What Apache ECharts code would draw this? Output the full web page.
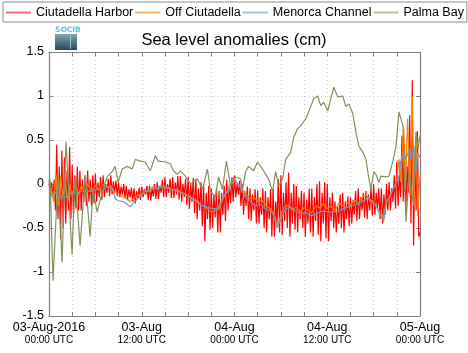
<!DOCTYPE html>
<html><head><meta charset="utf-8">
<script src="https://cdn.jsdelivr.net/npm/echarts@6/dist/echarts.min.js"></script>
<style>html,body{margin:0;padding:0;background:#fff}#c{width:468px;height:353px}</style>
</head><body><div id="c"></div><script>
const seriesNames = ['Ciutadella Harbor', 'Off Ciutadella', 'Menorca Channel', 'Palma Bay'];
const seriesColors = ['#ff0000', '#ff8000', '#6a9bd1', '#7f9258'];
const legendColors = ['#ff6a6a', '#ffb266', '#a7c1e0', '#b4c29c'];
const xTickDates = ['03-Aug-2016', '03-Aug', '04-Aug', '04-Aug', '05-Aug'];
const xTickTimes = ['00:00 UTC', '12:00 UTC', '00:00 UTC', '12:00 UTC', '00:00 UTC'];
const yTicks = [-1.5, -1, -0.5, 0, 0.5, 1, 1.5];

// Ciutadella Harbor: samples every 10 min from 03-Aug 00:00 UTC (one row per hour)
const harborStepHours = 1 / 6;
const harborValues = [
  0.0, -0.08, 0.02, -0.15, 0.05, -0.3,
  0.45, -0.4, 0.2, -0.62, 0.38, -0.5,
  0.3, -0.45, 0.15, -0.3, 0.42, -0.4,
  0.22, -0.35, 0.1, -0.28, 0.2, -0.3,
  0.15, -0.3, 0.05, -0.2, 0.1, -0.25,
  0.15, -0.2, 0.05, -0.25, 0.1, -0.22,
  0.12, -0.2, 0.02, -0.15, 0.08, -0.18,
  0.1, -0.15, 0.0, -0.1, 0.06, -0.14,
  0.1, -0.12, 0.03, -0.1, 0.04, -0.14,
  0.02, -0.15, -0.03, -0.12, 0.0, -0.16,
  -0.02, -0.18, -0.06, -0.15, -0.04, -0.2,
  -0.05, -0.22, -0.08, -0.16, -0.04, -0.18,
  -0.03, -0.15, -0.06, -0.12, -0.02, -0.18,
  -0.02, -0.19, -0.05, -0.14, 0.0, -0.17,
  0.02, -0.17, -0.02, -0.1, 0.05, -0.15,
  0.08, -0.15, 0.0, -0.1, 0.06, -0.16,
  0.08, -0.16, 0.02, -0.12, 0.09, -0.18,
  0.09, -0.2, 0.0, -0.15, 0.06, -0.24,
  0.08, -0.28, 0.0, -0.2, 0.07, -0.33,
  0.05, -0.4, -0.05, -0.3, 0.02, -0.48,
  0.0, -0.65, -0.1, -0.4, -0.02, -0.52,
  -0.05, -0.5, -0.12, -0.38, -0.06, -0.55,
  -0.08, -0.55, -0.1, -0.35, -0.02, -0.42,
  0.05, -0.3, -0.02, -0.22, 0.08, -0.2,
  0.1, -0.15, 0.0, -0.12, 0.04, -0.25,
  0.0, -0.35, -0.08, -0.25, -0.03, -0.4,
  -0.05, -0.42, -0.12, -0.3, -0.06, -0.45,
  -0.07, -0.45, -0.15, -0.35, -0.05, -0.5,
  -0.08, -0.55, -0.15, -0.4, -0.06, -0.6,
  -0.05, -0.6, -0.2, -0.45, 0.05, -0.55,
  0.1, -0.58, -0.1, -0.42, 0.02, -0.5,
  0.13, -0.6, -0.1, -0.45, 0.0, -0.52,
  -0.02, -0.55, -0.15, -0.4, -0.08, -0.5,
  -0.1, -0.6, -0.18, -0.45, -0.05, -0.55,
  -0.05, -0.6, -0.15, -0.42, 0.0, -0.58,
  0.03, -0.65, -0.1, -0.45, 0.02, -0.62,
  0.0, -0.65, -0.15, -0.42, -0.1, -0.5,
  -0.2, -0.55, -0.25, -0.45, -0.12, -0.5,
  -0.1, -0.55, -0.2, -0.4, -0.14, -0.48,
  -0.15, -0.45, -0.18, -0.35, -0.08, -0.42,
  -0.05, -0.4, -0.15, -0.3, -0.1, -0.38,
  -0.08, -0.4, -0.12, -0.3, -0.04, -0.36,
  0.0, -0.35, -0.1, -0.28, -0.05, -0.4,
  -0.05, -0.45, -0.12, -0.35, 0.0, -0.3,
  0.02, -0.3, -0.05, -0.2, 0.1, -0.28,
  0.25, -0.25, 0.1, -0.15, 0.55, -0.2,
  0.45, -0.3, 0.2, -0.1, 0.78, -0.45,
  1.18, -0.7, 0.3, -0.3, 0.6, -0.6,
  -0.55
];

// Off Ciutadella
const offHours = [0, 0.3, 0.6, 0.9, 1.2, 1.5, 1.8, 2.1, 2.4, 2.7, 3.0, 3.4, 3.8, 4.2, 4.6, 5.0, 5.5, 6.0, 6.5, 7.0, 7.5, 8.0, 8.5, 9.0, 9.5, 10.0, 10.5, 11.0, 11.5, 12.0, 12.5, 13.0, 13.5, 14.0, 14.5, 15.0, 15.5, 16.0, 16.5, 17.0, 17.5, 18.0, 18.5, 19.0, 19.5, 20.0, 20.5, 21.0, 21.5, 22.0, 22.5, 23.0, 23.5, 24.0, 24.5, 25.0, 25.5, 26.0, 26.5, 27.0, 27.5, 28.0, 28.5, 29.0, 29.5, 30.0, 30.5, 31.0, 31.5, 32.0, 32.5, 33.0, 33.5, 34.0, 34.5, 35.0, 35.5, 36.0, 36.5, 37.0, 37.5, 38.0, 38.5, 39.0, 39.5, 40.0, 40.5, 41.0, 41.5, 42.0, 42.5, 43.0, 43.3, 43.7, 44.0, 44.5, 44.9, 45.3, 45.5, 45.9, 46.1, 46.4, 46.7, 47.0, 47.2, 47.5, 47.7, 48.0];
const offValues = [-0.1, -0.05, -0.2, 0.12, -0.25, 0.1, -0.15, 0.05, -0.2, 0.0, -0.15, 0.02, -0.12, -0.02, -0.1, 0.0, -0.08, -0.02, -0.07, 0.0, -0.04, -0.02, -0.1, -0.12, -0.14, -0.17, -0.2, -0.16, -0.12, -0.12, -0.08, -0.08, -0.04, -0.05, -0.02, -0.05, -0.04, -0.07, -0.06, -0.09, -0.11, -0.13, -0.17, -0.19, -0.23, -0.25, -0.28, -0.32, -0.3, -0.28, -0.17, -0.09, 0.0, 0.03, 0.0, -0.06, -0.12, -0.17, -0.15, -0.2, -0.18, -0.24, -0.27, -0.32, -0.5, -0.35, -0.25, -0.24, -0.3, -0.26, -0.32, -0.27, -0.3, -0.33, -0.25, -0.27, -0.22, -0.28, -0.25, -0.3, -0.22, -0.25, -0.2, -0.24, -0.18, -0.22, -0.15, -0.12, -0.18, -0.2, -0.28, -0.33, -0.4, -0.2, -0.15, -0.05, 0.0, 0.28, 0.02, 0.63, -0.06, 0.74, -0.14, 1.0, -0.25, 0.59, -0.36, 0.09];

// Menorca Channel
const channelHours = [0, 0.4, 1.0, 1.7, 2.3, 3.0, 3.6, 4.3, 4.9, 5.6, 6.2, 6.9, 7.5, 8.2, 8.6, 9.0, 9.6, 10.1, 10.5, 11.2, 11.8, 12.3, 12.7, 13.5, 14.1, 14.8, 15.7, 16.6, 17.4, 18.3, 19.2, 19.8, 20.5, 21.1, 21.8, 22.4, 22.8, 23.2, 23.9, 24.4, 24.8, 25.0, 25.4, 26.1, 26.7, 27.4, 28.0, 28.7, 29.1, 29.6, 30.0, 30.6, 31.3, 31.9, 32.6, 33.2, 33.9, 34.5, 35.2, 35.8, 36.5, 37.4, 38.1, 39.1, 40.0, 40.7, 41.3, 41.6, 42.3, 42.9, 43.3, 43.6, 44.0, 44.5, 44.9, 45.3, 45.5, 45.9, 46.2, 46.6, 46.8, 47.2, 47.5, 47.7, 48.0];
const channelValues = [0.05, -0.15, -0.08, -0.17, -0.14, -0.09, -0.11, -0.08, -0.08, -0.08, -0.06, -0.08, -0.03, -0.06, -0.17, -0.19, -0.2, -0.23, -0.26, -0.19, -0.14, -0.08, -0.08, -0.03, -0.06, -0.02, -0.06, -0.08, -0.11, -0.15, -0.19, -0.25, -0.26, -0.28, -0.28, -0.17, -0.11, -0.08, 0.08, 0.0, -0.03, -0.08, -0.15, -0.2, -0.25, -0.23, -0.28, -0.31, -0.36, -0.48, -0.4, -0.28, -0.26, -0.31, -0.34, -0.32, -0.36, -0.34, -0.31, -0.31, -0.32, -0.31, -0.28, -0.25, -0.23, -0.19, -0.14, -0.2, -0.25, -0.36, -0.42, -0.2, -0.17, -0.06, 0.02, 0.09, 0.25, 0.36, 0.28, 0.4, 0.28, 0.43, 0.17, 0.35, 0.3];

// Palma Bay
const palmaHours = [0, 0.13, 0.52, 1.17, 1.69, 2.2, 2.98, 3.37, 4.02, 4.67, 5.32, 5.71, 6.23, 6.88, 7.52, 8.17, 8.56, 8.95, 9.47, 10.12, 10.77, 11.16, 11.8, 12.45, 13.1, 13.75, 14.14, 15.05, 15.7, 16.09, 16.6, 17.0, 17.64, 18.3, 18.68, 19.2, 19.85, 20.5, 20.89, 21.54, 21.93, 22.44, 22.96, 23.48, 24.13, 24.78, 25.04, 25.43, 25.82, 26.47, 26.98, 27.63, 28.02, 28.41, 28.93, 29.32, 29.71, 30.23, 30.62, 31.27, 31.66, 32.17, 32.56, 33.21, 33.6, 34.25, 34.77, 35.16, 35.55, 36.07, 36.46, 36.84, 37.36, 38.01, 38.4, 38.79, 39.31, 39.7, 40.09, 40.61, 41.0, 41.39, 41.65, 42.03, 42.29, 42.68, 42.94, 43.59, 43.98, 44.5, 44.89, 45.28, 45.8, 45.93, 46.19, 46.58, 47.1, 47.49, 47.74, 48.0];
const palmaValues = [0.0, 0.06, -1.1, 0.09, -0.89, 0.48, -0.8, 0.09, -0.7, 0.09, -0.6, -0.06, -0.32, -0.09, 0.08, 0.14, 0.2, 0.02, 0.17, 0.2, 0.17, 0.28, 0.26, 0.25, 0.15, 0.32, 0.26, 0.25, 0.23, 0.15, 0.11, 0.15, 0.09, 0.0, 0.03, 0.06, -0.06, 0.17, -0.08, -0.15, 0.08, -0.06, 0.26, -0.02, 0.08, 0.06, -0.06, 0.14, 0.2, 0.15, 0.25, 0.17, 0.11, 0.06, -0.09, 0.14, -0.02, 0.06, 0.28, 0.36, 0.53, 0.63, 0.66, 0.74, 0.82, 0.97, 1.0, 0.89, 0.93, 0.83, 0.97, 1.1, 0.99, 1.0, 0.88, 0.91, 0.8, 0.59, 0.43, 0.36, 0.28, 0.06, -0.06, 0.14, 0.11, 0.02, 0.09, 0.08, 0.09, 0.26, 0.43, 0.82, 0.66, 0.2, -0.43, 0.14, -0.2, 0.59, 0.4, 0.55];

const zip = (hs, vs) => vs.map((v, i) => [hs[i], v]);
const harborData = harborValues.map((v, i) => [i * harborStepHours, v]);
const dataSets = [harborData, zip(offHours, offValues), zip(channelHours, channelValues), zip(palmaHours, palmaValues)];
const lineWidths = [1.2, 1.2, 1.2, 1.2];

const FONT = '"Liberation Sans", Arial, Helvetica, sans-serif';
const AX = '#808080';
const chart = echarts.init(document.getElementById('c'), null, { renderer: 'canvas' });

const baseX = {
  type: 'value', min: 0, max: 48, interval: 12,
  axisLine: { show: true, onZero: false, lineStyle: { color: AX, width: 1.2 } },
  axisTick: { show: true, inside: true, length: 4, lineStyle: { color: AX } },
  minorTick: { show: true, splitNumber: 4, length: 4, lineStyle: { color: AX } }
};
const baseY = {
  type: 'value', min: -1.5, max: 1.5, interval: 0.5,
  axisLine: { show: true, onZero: false, lineStyle: { color: AX, width: 1.2 } },
  axisTick: { show: true, inside: true, length: 4, lineStyle: { color: AX } }
};

chart.setOption({
  animation: false,
  backgroundColor: '#fff',
  title: {
    text: 'Sea level anomalies (cm)', left: 'center', top: 27,
    textStyle: { fontFamily: FONT, fontSize: 16.5, fontWeight: 'normal', color: '#000' }
  },
  legend: {
    left: 3, top: 2, width: 470, itemGap: 2, itemWidth: 25, itemHeight: 2,
    padding: [4, 3, 3, 3], borderColor: '#8c8c8c', borderWidth: 1, borderRadius: 0,
    textStyle: { fontFamily: FONT, fontSize: 12.5, color: '#000' },
    data: seriesNames.map((n, i) => ({ name: n, icon: 'rect', itemStyle: { color: legendColors[i] } }))
  },
  grid: { left: 49, right: 48, top: 52, bottom: 37 },
  xAxis: [
    Object.assign({}, baseX, {
      position: 'bottom',
      axisLabel: {
        show: true, margin: 5, showMinLabel: true, showMaxLabel: true,
        formatter: v => { const i = Math.round(v / 12); return '{d|' + xTickDates[i] + '}\n{t|' + xTickTimes[i] + '}'; },
        rich: {
          d: { fontFamily: FONT, fontSize: 12.5, color: '#000', lineHeight: 13 },
          t: { fontFamily: FONT, fontSize: 10, color: '#000', lineHeight: 12 }
        }
      },
      splitLine: { show: true, lineStyle: { color: '#c8c8c8', type: [1, 3] } },
      minorSplitLine: { show: true, lineStyle: { color: '#c8c8c8', type: [1, 3] } }
    }),
    Object.assign({}, baseX, { position: 'top', axisLabel: { show: false }, splitLine: { show: false } })
  ],
  yAxis: [
    Object.assign({}, baseY, {
      position: 'left',
      axisLabel: { show: true, margin: 5, fontFamily: FONT, fontSize: 12.5, color: '#000', formatter: v => String(v) },
      splitLine: { show: true, lineStyle: { color: '#c8c8c8', type: [1, 3] } }
    }),
    Object.assign({}, baseY, { position: 'right', axisLabel: { show: false }, splitLine: { show: false } })
  ],
  graphic: [
    { type: 'text', x: 55, y: 26, z: 100, style: { text: 'SOCIB', x: 0, y: 0, font: 'bold 7.5px "DejaVu Sans", sans-serif', fill: '#5fc3d6', textVerticalAlign: 'top' } },
    { type: 'rect', x: 55, y: 34, z: 100, shape: { x: 0, y: 0, width: 22, height: 16 },
      style: { fill: new echarts.graphic.LinearGradient(0, 0, 0, 1, [{ offset: 0, color: '#7fa6b2' }, { offset: 1, color: '#24485a' }]) } },
    { type: 'rect', x: 70, y: 35, z: 101, shape: { x: 0, y: 0, width: 1, height: 14 }, style: { fill: 'rgba(220,235,240,0.6)' } }
  ],
  series: seriesNames.map((n, i) => ({
    name: n, type: 'line', data: dataSets[i], symbol: 'none', showSymbol: false,
    xAxisIndex: 0, yAxisIndex: 0,
    lineStyle: { color: seriesColors[i], width: lineWidths[i] }, itemStyle: { color: seriesColors[i] },
    emphasis: { disabled: true }, z: 2 + i
  }))
});
</script></body></html>
